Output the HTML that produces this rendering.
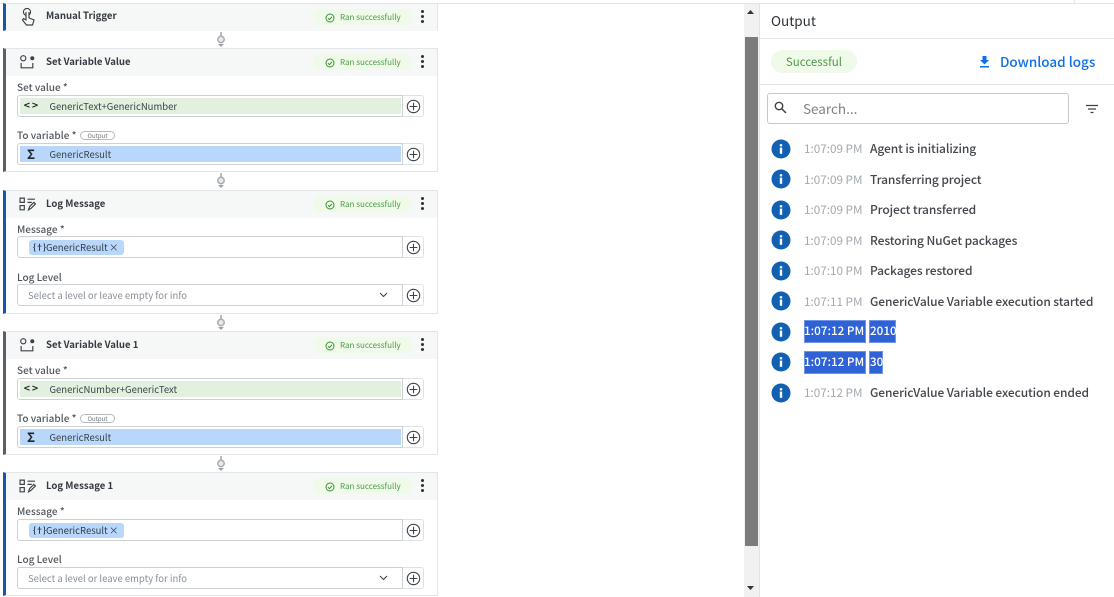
<!DOCTYPE html>
<html><head><meta charset="utf-8">
<style>
html,body{margin:0;padding:0;background:#fff}
body{width:1114px;height:597px;position:relative;overflow:hidden;font-family:"Noto Sans CJK JP","Liberation Sans",sans-serif;color:#2b3036}
div,span,svg{position:absolute;box-sizing:border-box;white-space:nowrap}
.card{left:3px;width:435px;background:#fff;border:1px solid #e3e6e9;border-left:3px solid #1a56a8}
.card.g{border-left-color:#5a6068}
.hd{left:0;top:0;right:0;height:27px;background:#f6f7f7}
.ti{left:40px;top:2.500px;font-size:9.600px;line-height:18px;font-weight:700;color:#343a40}
.pill{left:307px;top:5px;width:99px;height:16px;border-radius:8px;background:#effbe8}
.pill span{left:27px;top:0;font-size:8px;line-height:17px;color:#4c9a4c}
.pill svg{left:12px;top:3.500px}
.dots{left:415px;top:6px;width:3px;height:13px}
.dots i{position:absolute;left:0;width:3px;height:3px;border-radius:50%;background:#2b3036}
.lb{left:11px;font-size:10px;line-height:15px;font-weight:500;color:#51575e}
.box{left:11px;width:386px;height:22px;border:1px solid #cdd1d5;border-radius:3px 0 0 3px;background:#fff}
.add{left:397px;width:21px;height:22px;border:1px solid #dfe2e5;border-left:0;border-radius:0 3px 3px 0;background:#fff}
.add svg{left:3px;top:3px}
.fill{left:2px;top:2px;right:1px;bottom:2px}
.v{left:31.500px;top:0;font-size:9.500px;line-height:20px;color:#3c4248}
.sym{left:4px;top:0;width:18px;text-align:center;font-size:10.500px;line-height:20px;font-weight:700;color:#22272c}
.ph{left:10px;top:0;font-size:9.500px;line-height:20px;color:#8a9097}
.chip{left:11px;top:3px;width:95px;height:15px;background:#b9d7fb;border-radius:3px}
.chip span{font-size:9.500px;line-height:15px;color:#2f3a46}
.out{left:74px;width:35px;height:9px;border:1px solid #b6bbc0;border-radius:5px;text-align:center;font-size:6px;line-height:7px;color:#6a7077}
.tm{left:804px;font-size:11.700px;line-height:20px;color:#a3a9ae}
.ms{left:870px;font-size:12px;line-height:20px;font-weight:500;color:#43474c;letter-spacing:-.1px}
.ic{left:771px;width:20px;height:20px}
.sel{background:#2f62d4;border:1px solid #6f93e6;height:23px}
.selt{font-size:11.700px;line-height:18px;font-weight:500;color:#fff}
</style></head><body>

<svg width="0" height="0" style="left:0;top:0">
<defs>
<symbol id="plus" viewBox="0 0 15 15"><circle cx="7.500" cy="7.500" r="6.200" fill="none" stroke="#3c4248" stroke-width="1.100"/><path d="M7.500 3.700v7.600M3.700 7.500h7.600" stroke="#3c4248" stroke-width="1.100"/></symbol>
<symbol id="ok" viewBox="0 0 10 10"><circle cx="5" cy="5" r="4" fill="none" stroke="#3d8f3d" stroke-width="1"/><path d="M3 5.200l1.500 1.400L7 3.800" fill="none" stroke="#3d8f3d" stroke-width="1"/></symbol>
<symbol id="conn" viewBox="0 0 8 16"><path d="M4 0v4" stroke="#a8acb0" stroke-width="1.600"/><circle cx="4" cy="7.500" r="3.200" fill="#e6e8ea" stroke="#a8acb0" stroke-width="1.500"/><path d="M1 12h6l-3 3z" fill="#9ea2a6"/></symbol>
<symbol id="setv" viewBox="0 0 16 14"><circle cx="4" cy="3" r="2.400" fill="none" stroke="#3c4248" stroke-width="1.100"/><circle cx="12.500" cy="3" r="1.900" fill="#3c4248"/><path d="M2 7.500v4.500h11V7.500" fill="none" stroke="#3c4248" stroke-width="1.100"/></symbol>
<symbol id="logi" viewBox="0 0 16 14"><path d="M1 1h4v4H1zM1 8h4v4H1z" fill="none" stroke="#3c4248" stroke-width="1.100"/><path d="M8 2h7M8 5h4M9 12l1-3 4-4 1.500 1.500-4 4z" fill="none" stroke="#3c4248" stroke-width="1.100"/></symbol>
<symbol id="info" viewBox="0 0 20 20"><circle cx="10" cy="10" r="9.500" fill="#1160b2"/><rect x="8.800" y="8.600" width="2.400" height="6.200" fill="#fff"/><rect x="8.800" y="5.200" width="2.400" height="2.200" fill="#fff"/></symbol>
</defs></svg>

<div style="left:0;top:3px;width:1114px;height:1px;background:#e3e6e9"></div>
<div style="left:1074px;top:0;width:1px;height:3px;background:#e3e6e9"></div>

<!-- Card 1 -->
<div class="card" style="top:3px;height:28px">
  <div class="hd"></div>
  <svg style="left:14px;top:3px" width="16" height="20" viewBox="0 0 16 20"><circle cx="7" cy="5" r="3.600" fill="none" stroke="#3c4248" stroke-width="1.100"/><path d="M6 5v8l-2.500-1.500L2.500 13l4 5h6l1.500-5-5-2V5" fill="#fff" stroke="#3c4248" stroke-width="1.200"/></svg>
  <div class="ti" style="top:2px">Manual Trigger</div>
  <div class="pill"><svg width="10" height="10"><use href="#ok"/></svg><span>Ran successfully</span></div>
  <div class="dots"><i style="top:0"></i><i style="top:5px"></i><i style="top:10px"></i></div>
</div>
<svg style="left:217px;top:32px" width="8" height="16"><use href="#conn"/></svg>

<!-- Card 2 -->
<div class="card g" style="top:48px;height:124px">
  <div class="hd"></div>
  <svg style="left:13px;top:6px" width="17" height="15"><use href="#setv"/></svg>
  <div class="ti">Set Variable Value</div>
  <div class="pill"><svg width="10" height="10"><use href="#ok"/></svg><span>Ran successfully</span></div>
  <div class="dots"><i style="top:0"></i><i style="top:5px"></i><i style="top:10px"></i></div>
  <div class="lb" style="top:30px">Set value *</div>
  <div class="box" style="top:46px"><div class="fill" style="background:#e4f0df"></div><div class="sym">&lt;&thinsp;&gt;</div><div class="v">GenericText+GenericNumber</div></div>
  <div class="add" style="top:46px"><svg width="15" height="15"><use href="#plus"/></svg></div>
  <div class="lb" style="top:78px">To variable *</div>
  <div class="out" style="top:82px">Output</div>
  <div class="box" style="top:94px"><div class="fill" style="background:#b9d7fb"></div><div class="sym" style="font-size:13px">Σ</div><div class="v">GenericResult</div></div>
  <div class="add" style="top:94px"><svg width="15" height="15"><use href="#plus"/></svg></div>
</div>
<svg style="left:217px;top:173px" width="8" height="16"><use href="#conn"/></svg>

<!-- Card 3 -->
<div class="card" style="top:190px;height:124px">
  <div class="hd"></div>
  <svg style="left:13px;top:6px" width="17" height="15"><use href="#logi"/></svg>
  <div class="ti">Log Message</div>
  <div class="pill"><svg width="10" height="10"><use href="#ok"/></svg><span>Ran successfully</span></div>
  <div class="dots"><i style="top:0"></i><i style="top:5px"></i><i style="top:10px"></i></div>
  <div class="lb" style="top:30px">Message *</div>
  <div class="box" style="top:45px"><div class="chip"><span style="left:4px;font-weight:700;font-size:8px;letter-spacing:-.5px">{†}</span><span style="left:17px">GenericResult</span><span style="left:80px">×</span></div></div>
  <div class="add" style="top:45px"><svg width="15" height="15"><use href="#plus"/></svg></div>
  <div class="lb" style="top:78px">Log Level</div>
  <div class="box" style="top:93px"><div class="ph">Select a level or leave empty for info</div><svg style="left:361px;top:7px" width="9" height="6"><path d="M1 1l3.500 3.500L8 1" fill="none" stroke="#3c4248" stroke-width="1.100"/></svg></div>
  <div class="add" style="top:93px"><svg width="15" height="15"><use href="#plus"/></svg></div>
</div>
<svg style="left:217px;top:315px" width="8" height="16"><use href="#conn"/></svg>

<!-- Card 4 -->
<div class="card g" style="top:331px;height:124px">
  <div class="hd"></div>
  <svg style="left:13px;top:6px" width="17" height="15"><use href="#setv"/></svg>
  <div class="ti">Set Variable Value 1</div>
  <div class="pill"><svg width="10" height="10"><use href="#ok"/></svg><span>Ran successfully</span></div>
  <div class="dots"><i style="top:0"></i><i style="top:5px"></i><i style="top:10px"></i></div>
  <div class="lb" style="top:30px">Set value *</div>
  <div class="box" style="top:46px"><div class="fill" style="background:#e4f0df"></div><div class="sym">&lt;&thinsp;&gt;</div><div class="v">GenericNumber+GenericText</div></div>
  <div class="add" style="top:46px"><svg width="15" height="15"><use href="#plus"/></svg></div>
  <div class="lb" style="top:78px">To variable *</div>
  <div class="out" style="top:82px">Output</div>
  <div class="box" style="top:94px"><div class="fill" style="background:#b9d7fb"></div><div class="sym" style="font-size:13px">Σ</div><div class="v">GenericResult</div></div>
  <div class="add" style="top:94px"><svg width="15" height="15"><use href="#plus"/></svg></div>
</div>
<svg style="left:217px;top:456px" width="8" height="16"><use href="#conn"/></svg>

<!-- Card 5 -->
<div class="card" style="top:472px;height:124px">
  <div class="hd"></div>
  <svg style="left:13px;top:6px" width="17" height="15"><use href="#logi"/></svg>
  <div class="ti">Log Message 1</div>
  <div class="pill"><svg width="10" height="10"><use href="#ok"/></svg><span>Ran successfully</span></div>
  <div class="dots"><i style="top:0"></i><i style="top:5px"></i><i style="top:10px"></i></div>
  <div class="lb" style="top:30px">Message *</div>
  <div class="box" style="top:46px"><div class="chip"><span style="left:4px;font-weight:700;font-size:8px;letter-spacing:-.5px">{†}</span><span style="left:17px">GenericResult</span><span style="left:80px">×</span></div></div>
  <div class="add" style="top:46px"><svg width="15" height="15"><use href="#plus"/></svg></div>
  <div class="lb" style="top:78px">Log Level</div>
  <div class="box" style="top:94px"><div class="ph">Select a level or leave empty for info</div><svg style="left:361px;top:7px" width="9" height="6"><path d="M1 1l3.500 3.500L8 1" fill="none" stroke="#3c4248" stroke-width="1.100"/></svg></div>
  <div class="add" style="top:94px"><svg width="15" height="15"><use href="#plus"/></svg></div>
</div>

<!-- Scrollbar -->
<div style="left:744px;top:4px;width:15px;height:593px;background:#f1f1f1"></div>
<div style="left:745px;top:37px;width:13px;height:509px;background:#7b7b7b"></div>
<svg style="left:747px;top:9px" width="8" height="6"><path d="M0 5h7L3.500 1z" fill="#333"/></svg>
<svg style="left:747px;top:585px" width="8" height="6"><path d="M0 1h7L3.500 5z" fill="#333"/></svg>
<div style="left:759px;top:4px;width:1px;height:593px;background:#e0e3e6"></div>

<!-- Output panel -->
<div style="left:771px;top:10px;font-size:13.500px;line-height:20px;color:#2b3036">Output</div>
<div style="left:760px;top:38px;width:354px;height:1px;background:#e3e6e9"></div>
<div style="left:771px;top:50px;width:86px;height:23px;border-radius:12px;background:#effbe8;text-align:center;font-size:11.500px;line-height:24px;color:#4c9a4c">Successful</div>
<svg style="left:978px;top:55px" width="13" height="14" viewBox="0 0 13 14"><path d="M4.500 1h4v4h2.500l-4.500 4.500L2 5h2.500z" fill="#0f6fe8"/><rect x="2" y="11" width="9" height="1.500" fill="#0f6fe8"/></svg>
<div style="left:1000px;top:51px;font-size:13.500px;line-height:20px;font-weight:500;color:#0f6fe8">Download logs</div>
<div style="left:760px;top:84px;width:354px;height:1px;background:#e3e6e9"></div>
<div style="left:767px;top:93px;width:302px;height:31px;border:1px solid #c4c9ce;border-radius:3px"></div>
<svg style="left:774px;top:101px" width="13" height="13" viewBox="0 0 13 13"><circle cx="5" cy="5" r="3.700" fill="none" stroke="#3c4248" stroke-width="1.400"/><path d="M8 8l4 4" stroke="#3c4248" stroke-width="1.500"/></svg>
<div style="left:803px;top:98px;font-size:13.500px;line-height:20px;color:#7d848b">Search...</div>
<svg style="left:1086px;top:104px" width="12" height="10"><path d="M0 1.500h12M2 5h8M4.500 8.500h3" stroke="#3c4248" stroke-width="1.300"/></svg>

<svg class="ic" style="top:139px"><use href="#info"/></svg><div class="tm" style="top:139px">1:07:09 PM</div><div class="ms" style="top:139px">Agent is initializing</div>
<svg class="ic" style="top:169px"><use href="#info"/></svg><div class="tm" style="top:170px">1:07:09 PM</div><div class="ms" style="top:170px">Transferring project</div>
<svg class="ic" style="top:200px"><use href="#info"/></svg><div class="tm" style="top:200px">1:07:09 PM</div><div class="ms" style="top:200px">Project transferred</div>
<svg class="ic" style="top:230px"><use href="#info"/></svg><div class="tm" style="top:231px">1:07:09 PM</div><div class="ms" style="top:231px">Restoring NuGet packages</div>
<svg class="ic" style="top:261px"><use href="#info"/></svg><div class="tm" style="top:261px">1:07:10 PM</div><div class="ms" style="top:261px">Packages restored</div>
<svg class="ic" style="top:291px"><use href="#info"/></svg><div class="tm" style="top:292px">1:07:11 PM</div><div class="ms" style="top:292px">GenericValue Variable execution started</div>
<svg class="ic" style="top:322px"><use href="#info"/></svg>
<div class="sel" style="left:804px;top:320px;width:62px"></div><div class="sel" style="left:869px;top:320px;width:27px"></div>
<div class="selt" style="left:804px;top:322px">1:07:12 PM</div><div class="selt" style="left:870px;top:322px">2010</div>
<svg class="ic" style="top:352px"><use href="#info"/></svg>
<div class="sel" style="left:804px;top:351px;width:62px"></div><div class="sel" style="left:869px;top:351px;width:14px"></div>
<div class="selt" style="left:804px;top:353px">1:07:12 PM</div><div class="selt" style="left:870px;top:353px">30</div>
<svg class="ic" style="top:383px"><use href="#info"/></svg><div class="tm" style="top:383px">1:07:12 PM</div><div class="ms" style="top:383px">GenericValue Variable execution ended</div>

</body></html>
